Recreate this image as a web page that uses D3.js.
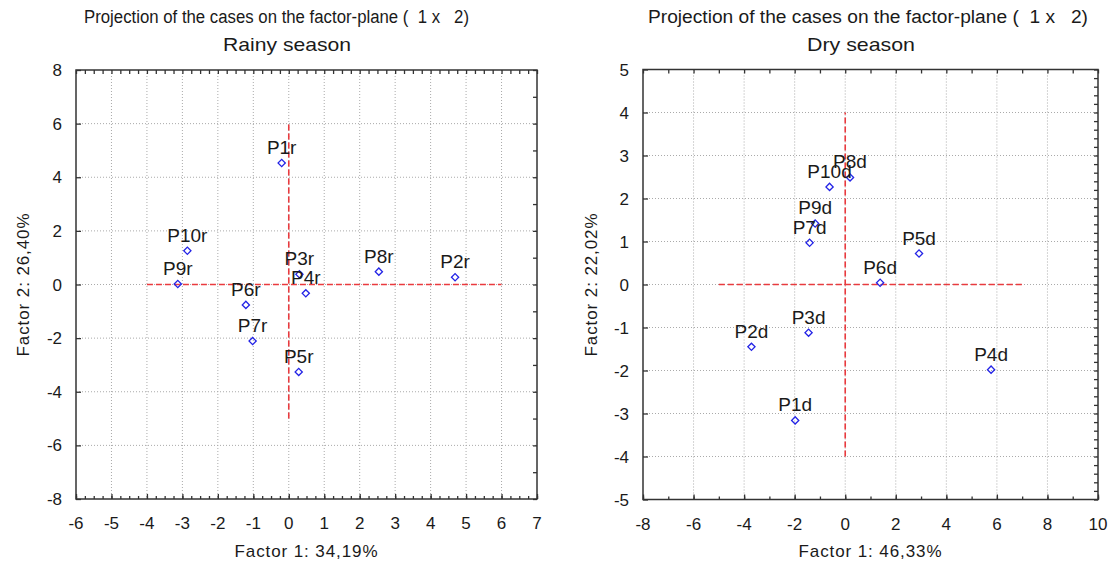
<!DOCTYPE html>
<html><head><meta charset="utf-8">
<script src="https://cdn.jsdelivr.net/npm/d3@7"></script>
<style>
body{margin:0;background:#fff;}
svg text{font-family:"Liberation Sans",Arial,sans-serif;fill:#1a1a1a;}
</style></head>
<body><svg id="chart" width="1111" height="572"></svg>
<script>
// ---- Data ----
const rainyLabels = ["P1r","P2r","P3r","P4r","P5r","P6r","P7r","P8r","P9r","P10r"];
const rainyF1 = [-0.20, 4.69, 0.30, 0.48, 0.28, -1.21, -1.02, 2.54, -3.13, -2.86];
const rainyF2 = [4.53, 0.27, 0.38, -0.33, -3.26, -0.76, -2.11, 0.48, 0.02, 1.26];
const dryLabels = ["P1d","P2d","P3d","P4d","P5d","P6d","P7d","P8d","P9d","P10d"];
const dryF1 = [-1.98, -3.71, -1.45, 5.77, 2.92, 1.38, -1.41, 0.19, -1.19, -0.62];
const dryF2 = [-3.16, -1.45, -1.12, -1.98, 0.72, 0.04, 0.97, 2.49, 1.42, 2.27];
const titleText = "Projection of the cases on the factor-plane (  1 x   2)";
const rainyXTicks = [-6,-5,-4,-3,-2,-1,0,1,2,3,4,5,6,7];
const rainyYTicks = [-8,-6,-4,-2,0,2,4,6,8];
const dryXTicks = [-8,-6,-4,-2,0,2,4,6,8,10];
const dryYTicks = [-5,-4,-3,-2,-1,0,1,2,3,4,5];

const svg = d3.select("#chart");

function panel(cfg){
  const g = svg.append("g");
  const x = d3.scaleLinear().domain(cfg.xDom).range(cfg.xR);
  const y = d3.scaleLinear().domain(cfg.yDom).range(cfg.yR);
  const [x0,x1] = cfg.xR, [y1,y0] = cfg.yR; // y1 bottom, y0 top
  // grid
  g.selectAll(".gx").data(cfg.xGrid).join("line")
    .attr("x1",d=>x(d)).attr("x2",d=>x(d)).attr("y1",y0).attr("y2",y1)
    .attr("stroke","#aaaaaa").attr("stroke-width",1).attr("stroke-dasharray","1,2");
  g.selectAll(".gy").data(cfg.yGrid).join("line")
    .attr("x1",x0).attr("x2",x1).attr("y1",d=>y(d)).attr("y2",d=>y(d))
    .attr("stroke","#aaaaaa").attr("stroke-width",1).attr("stroke-dasharray","1,2");
  // red reference lines
  g.append("line").attr("x1",x(cfg.hLine[0])).attr("x2",x(cfg.hLine[1])).attr("y1",y(0)).attr("y2",y(0))
    .attr("stroke","#ea3a3e").attr("stroke-width",1.6).attr("stroke-dasharray","6,3");
  g.append("line").attr("x1",x(0)).attr("x2",x(0)).attr("y1",y(cfg.vLine[0])).attr("y2",y(cfg.vLine[1]))
    .attr("stroke","#ea3a3e").attr("stroke-width",1.6).attr("stroke-dasharray","6,3");
  // axes (ticks inward)
  const tickStyle = sel => { sel.select(".domain").remove(); sel.selectAll("line").attr("stroke","#333").attr("stroke-width",1.3); };
  const xMinor = d3.range(cfg.xDom[0], cfg.xDom[1]+1e-9, cfg.xMinorStep);
  const yMinor = d3.range(cfg.yDom[1], cfg.yDom[0]+1e-9, cfg.yMinorStep);
  g.append("g").attr("transform",`translate(0,${y1})`)
    .call(d3.axisTop(x).tickValues(xMinor).tickSize(3).tickFormat("")).call(tickStyle);
  g.append("g").attr("transform",`translate(0,${y1})`)
    .call(d3.axisTop(x).tickValues(cfg.xTicks).tickSize(5).tickFormat("")).call(tickStyle);
  g.append("g").attr("transform",`translate(0,${y0})`)
    .call(d3.axisBottom(x).tickValues(cfg.topTicks).tickSize(4).tickFormat("")).call(tickStyle);
  g.append("g").attr("transform",`translate(${x0},0)`)
    .call(d3.axisRight(y).tickValues(yMinor).tickSize(3).tickFormat("")).call(tickStyle);
  g.append("g").attr("transform",`translate(${x0},0)`)
    .call(d3.axisRight(y).tickValues(cfg.yTicks).tickSize(5).tickFormat("")).call(tickStyle);
  g.append("g").attr("transform",`translate(${x1},0)`)
    .call(d3.axisLeft(y).tickValues(cfg.rightTicks).tickSize(4).tickFormat("")).call(tickStyle);
  // frame
  g.append("rect").attr("x",x0).attr("y",y0).attr("width",x1-x0).attr("height",y1-y0)
    .attr("fill","none").attr("stroke","#333").attr("stroke-width",1.5);
  // tick labels
  g.selectAll(".xl").data(cfg.xTicks).join("text")
    .attr("x",d=>x(d)).attr("y",y1+30).attr("text-anchor","middle").attr("font-size",17)
    .text(d=>d);
  g.selectAll(".yl").data(cfg.yTicks).join("text")
    .attr("x",x0-14).attr("y",d=>y(d)+6).attr("text-anchor","end").attr("font-size",17)
    .text(d=>d);
  // points
  const pts = cfg.labels.map((l,i)=>({l, f1:cfg.f1[i], f2:cfg.f2[i]}));
  g.selectAll(".pt").data(pts).join("path")
    .attr("d", d3.symbol().type(d3.symbolSquare).size(26))
    .attr("transform",d=>`translate(${x(d.f1)},${y(d.f2)}) rotate(45)`)
    .attr("fill","none").attr("stroke","#2424e6").attr("stroke-width",1.3);
  g.selectAll(".pl").data(pts).join("text")
    .attr("x",d=>x(d.f1)).attr("y",d=>y(d.f2)-9).attr("text-anchor","middle").attr("font-size",19)
    .text(d=>d.l);
  // titles
  g.append("text").attr("x",cfg.titleX).attr("y",23).attr("font-size",18)
    .attr("textLength",cfg.titleLen).attr("lengthAdjust","spacingAndGlyphs")
    .style("white-space","pre").text(titleText);
  g.append("text").attr("x",cfg.subX).attr("y",51).attr("text-anchor","middle").attr("font-size",18.5)
    .attr("textLength",cfg.subLen).attr("lengthAdjust","spacingAndGlyphs")
    .text(cfg.sub);
  g.append("text").attr("x",(x0+x1)/2).attr("y",557).attr("text-anchor","middle").attr("font-size",17)
    .attr("letter-spacing","0.9px").text(cfg.xTitle);
  g.append("text").attr("transform",`translate(${cfg.yTitleX},${(y0+y1)/2}) rotate(-90)`)
    .attr("text-anchor","middle").attr("font-size",17).attr("letter-spacing","0.9px").text(cfg.yTitle);
}

panel({xDom:[-6,7], xR:[76,537], yDom:[-8,8], yR:[499,70],
  xTicks:rainyXTicks, yTicks:rainyYTicks, xMinorStep:0.25, yMinorStep:1,
  topTicks:d3.range(-6,7.001,0.25), rightTicks:d3.range(-8,8.001,1),
  xGrid:d3.range(-5,7,1), yGrid:[-6,-4,-2,0,2,4,6],
  hLine:[-4,6], vLine:[-5,6],
  labels:rainyLabels, f1:rainyF1, f2:rainyF2,
  titleX:84, titleLen:385, subX:287, subLen:128, sub:"Rainy season",
  xTitle:"Factor 1: 34,19%", yTitle:"Factor 2: 26,40%", yTitleX:29});

panel({xDom:[-8,10], xR:[643,1098], yDom:[-5,5], yR:[499.5,69.5],
  xTicks:dryXTicks, yTicks:dryYTicks, xMinorStep:1, yMinorStep:0.2,
  topTicks:d3.range(-8,10.001,1), rightTicks:d3.range(-5,5.001,0.2),
  xGrid:[-6,-4,-2,0,2,4,6,8], yGrid:[-4,-3,-2,-1,0,1,2,3,4],
  hLine:[-5,7], vLine:[-4,4],
  labels:dryLabels, f1:dryF1, f2:dryF2,
  titleX:648, titleLen:440, subX:861, subLen:108, sub:"Dry season",
  xTitle:"Factor 1: 46,33%", yTitle:"Factor 2: 22,02%", yTitleX:597});
</script></body></html>
